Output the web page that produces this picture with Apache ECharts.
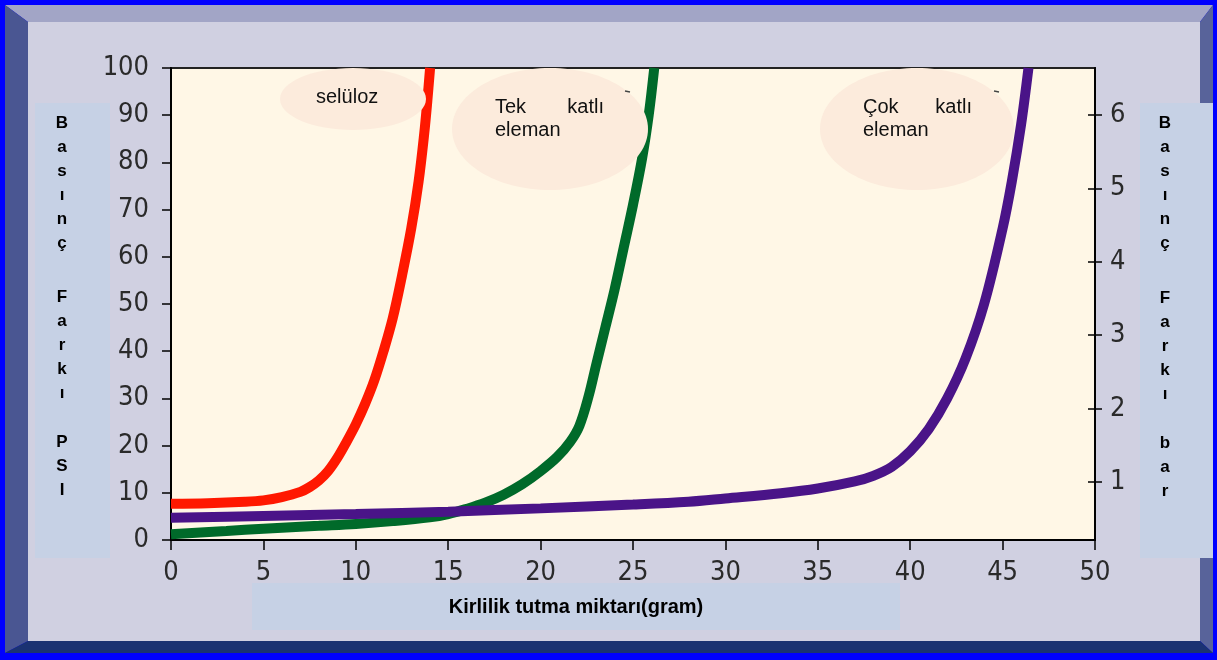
<!DOCTYPE html>
<html><head><meta charset="utf-8">
<script src="https://cdn.jsdelivr.net/npm/echarts@6/dist/echarts.min.js"></script>
<style>html,body{margin:0;padding:0;background:#0000ff;}#c{width:1217px;height:660px;}</style>
</head><body><div id="c"></div><script>
// ---- data ----
const seluloz = [[0,7.7],[2,7.8],[4,8.1],[5,8.4],[6,9.1],[7,10.2],[7.5,11.2],[8,12.6],[8.5,14.6],[9,17.4],[9.5,20.8],[10,24.5],[10.5,28.8],[11,33.8],[11.5,40],[12,47],[12.5,56],[13,66],[13.4,76],[13.7,86],[13.87,93],[14.02,100]];
const tekKatli = [[0,1.2],[3,1.9],[5,2.4],[8,3],[10,3.4],[12,4],[14,4.8],[15,5.5],[16,6.6],[17,7.9],[18,9.6],[19,11.8],[20,14.6],[20.9,17.6],[21.6,20.8],[22.1,24.2],[22.6,30.5],[23,37],[23.5,45],[24,53],[24.5,62],[25,71],[25.5,81],[25.85,90],[26.15,100]];
const cokKatli = [[0,4.7],[5,5.1],[10,5.5],[15,6],[20,6.7],[25,7.5],[28,8.1],[30,8.8],[33,9.9],[35,10.9],[37,12.4],[38,13.6],[39,15.5],[40,18.8],[41,23.5],[42,30],[43,38.5],[44,50],[45,66],[45.5,76],[46,88],[46.4,100]];
const barTicks = [1,2,3,4,5,6];
const seriesNames = ['selüloz','Tek katlı eleman','Çok katlı eleman'];
const xTitle = 'Kirlilik tutma miktarı(gram)';
const leftTitle = [['B','a','s','ı','n','ç'],['F','a','r','k','ı'],['P','S','I']];
const rightTitle = [['B','a','s','ı','n','ç'],['F','a','r','k','ı'],['b','a','r']];

const chart = echarts.init(document.getElementById('c'), null, {renderer:'canvas'});
const numFont = "'Liberation Sans Narrow','Arial Narrow','DejaVu Sans Condensed',sans-serif";
const txtFont = "'Liberation Sans',Arial,sans-serif";

function vertGroup(groups, cx, starts){
  const els = [];
  groups.forEach((g,i)=>{
    els.push({type:'text', z:20, style:{text:g.join('\n'), x:cx, y:starts[i]-12, align:'center', verticalAlign:'top',
      lineHeight:24, fontSize:17, fontWeight:'bold', fontFamily:txtFont, fill:'#000'}});
  });
  return els;
}
const graphics = [
  {type:'rect', z:-10, shape:{x:0,y:0,width:1217,height:660}, style:{fill:'#0000FF'}},
  {type:'polygon', z:-9, shape:{points:[[5,5],[1213,5],[1200,22],[28,22]]}, style:{fill:'#A2A5C6'}},
  {type:'polygon', z:-9, shape:{points:[[5,5],[28,22],[28,641],[5,653]]}, style:{fill:'#4A5692'}},
  {type:'polygon', z:-9, shape:{points:[[1213,5],[1213,653],[1200,641],[1200,22]]}, style:{fill:'#58639A'}},
  {type:'polygon', z:-9, shape:{points:[[5,653],[28,641],[1200,641],[1213,653]]}, style:{fill:'#1B3272'}},
  {type:'rect', z:-8, shape:{x:28,y:22,width:1172,height:619}, style:{fill:'#D0D0E1'}},
  {type:'rect', z:-7, shape:{x:35,y:103,width:75,height:455}, style:{fill:'#C6D1E5'}},
  {type:'rect', z:-7, shape:{x:1140,y:103,width:73,height:455}, style:{fill:'#C6D1E5'}},
  {type:'rect', z:-7, shape:{x:252,y:583,width:648,height:47}, style:{fill:'#C6D1E5'}},
  {type:'text', z:20, style:{text:xTitle, x:576, y:607, align:'center', verticalAlign:'middle', fontSize:20, fontWeight:'bold', fontFamily:txtFont, fill:'#000'}},
  // annotation ellipses
  {type:'ellipse', z:50, shape:{cx:353,cy:99,rx:73,ry:31}, style:{fill:'#FCEBDC'}},
  {type:'ellipse', z:50, shape:{cx:550,cy:129,rx:98,ry:61}, style:{fill:'#FCEBDC'}},
  {type:'ellipse', z:50, shape:{cx:917,cy:129,rx:97,ry:61}, style:{fill:'#FCEBDC'}},
  {type:'line', z:51, shape:{x1:625,y1:91,x2:630,y2:92}, style:{stroke:'#444',lineWidth:1.5}},
  {type:'line', z:51, shape:{x1:994,y1:91,x2:999,y2:92}, style:{stroke:'#444',lineWidth:1.5}},
  {type:'text', z:52, style:{text:'selüloz', x:316, y:97, align:'left', verticalAlign:'middle', fontSize:20, fontFamily:txtFont, fill:'#111'}},
  {type:'text', z:52, style:{text:'Tek', x:495, y:107, align:'left', verticalAlign:'middle', fontSize:20, fontFamily:txtFont, fill:'#111'}},
  {type:'text', z:52, style:{text:'katlı', x:604, y:107, align:'right', verticalAlign:'middle', fontSize:20, fontFamily:txtFont, fill:'#111'}},
  {type:'text', z:52, style:{text:'eleman', x:495, y:130, align:'left', verticalAlign:'middle', fontSize:20, fontFamily:txtFont, fill:'#111'}},
  {type:'text', z:52, style:{text:'Çok', x:863, y:107, align:'left', verticalAlign:'middle', fontSize:20, fontFamily:txtFont, fill:'#111'}},
  {type:'text', z:52, style:{text:'katlı', x:972, y:107, align:'right', verticalAlign:'middle', fontSize:20, fontFamily:txtFont, fill:'#111'}},
  {type:'text', z:52, style:{text:'eleman', x:863, y:130, align:'left', verticalAlign:'middle', fontSize:20, fontFamily:txtFont, fill:'#111'}}
].concat(vertGroup(leftTitle, 62, [123,297,442])).concat(vertGroup(rightTitle, 1165, [123,298,443]));

const lineCommon = {type:'line', showSymbol:false, smooth:0.35, clip:true, z:3};
const option = {
  animation:false,
  backgroundColor:'transparent',
  graphic:{elements:graphics},
  grid:{left:171, top:68, width:924, height:472, show:true, backgroundColor:'#FFF7E6', borderColor:'#222', borderWidth:2},
  xAxis:{type:'value', min:0, max:50, interval:5,
    axisLine:{show:true, lineStyle:{color:'#000', width:2}},
    axisTick:{show:true, length:10, lineStyle:{color:'#000', width:1.5}},
    axisLabel:{margin:19, fontSize:27, fontFamily:numFont, color:'#2a2a2a'},
    splitLine:{show:false}},
  yAxis:[
    {type:'value', min:0, max:100, interval:10, position:'left',
      axisLine:{show:true, lineStyle:{color:'#000', width:2}},
      axisTick:{show:true, length:9, lineStyle:{color:'#000', width:1.5}},
      axisLabel:{margin:22, fontSize:27, fontFamily:numFont, color:'#2a2a2a'},
      splitLine:{show:false}},
    {type:'value', min:0.21, max:6.64, position:'right',
      axisLine:{show:true, lineStyle:{color:'#000', width:2}},
      axisTick:{show:true, length:7, customValues:barTicks, lineStyle:{color:'#000', width:1.5}},
      axisLabel:{margin:15, customValues:barTicks, fontSize:27, fontFamily:numFont, color:'#2a2a2a'},
      splitLine:{show:false}},
    {type:'value', min:0.21, max:6.64, position:'right',
      axisLine:{show:false},
      axisTick:{show:true, inside:true, length:7, customValues:barTicks, lineStyle:{color:'#000', width:1.5}},
      axisLabel:{show:false},
      splitLine:{show:false}}
  ],
  series:[
    Object.assign({}, lineCommon, {name:seriesNames[0], data:seluloz, lineStyle:{color:'#FF1800', width:10}, itemStyle:{color:'#FF1800'}}),
    Object.assign({}, lineCommon, {name:seriesNames[1], data:tekKatli, lineStyle:{color:'#006A2A', width:10}, itemStyle:{color:'#006A2A'}}),
    Object.assign({}, lineCommon, {name:seriesNames[2], data:cokKatli, lineStyle:{color:'#4A1488', width:10}, itemStyle:{color:'#4A1488'}})
  ]
};
chart.setOption(option);
</script></body></html>
